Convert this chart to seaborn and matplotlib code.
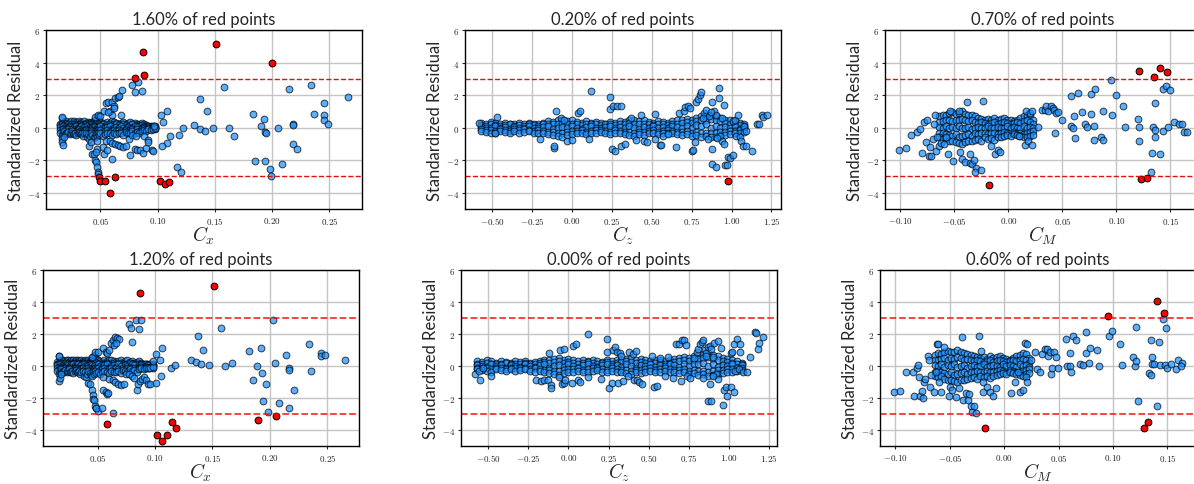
import pandas as pd
import seaborn as sns
import matplotlib.pyplot as plt
from matplotlib.ticker import FuncFormatter

# ---------------------------------------------------------------------------
# Data (standardized residuals vs coefficient)
# ---------------------------------------------------------------------------

titles = ["1.60% of red points", "0.20% of red points", "0.70% of red points",
          "1.20% of red points", "0.00% of red points", "0.60% of red points"]
xlabels = [r"$C_x$", r"$C_z$", r"$C_M$", r"$C_x$", r"$C_z$", r"$C_M$"]
threshold = 3.0

# dense band of Cx (same in both rows)
cx_band_x = [0.015, 0.016, 0.017, 0.018, 0.019, 0.020, 0.021, 0.022, 0.023, 0.024,
             0.025, 0.026, 0.027, 0.028, 0.029, 0.030, 0.031, 0.032, 0.033, 0.034,
             0.035, 0.036, 0.037, 0.038, 0.039, 0.040, 0.041, 0.042, 0.043, 0.044,
             0.045, 0.046, 0.047, 0.048, 0.049, 0.050, 0.052, 0.054, 0.056, 0.058,
             0.060, 0.062, 0.064, 0.066, 0.068, 0.070, 0.072, 0.074, 0.076, 0.078,
             0.080, 0.082, 0.084, 0.086, 0.088, 0.090, 0.092, 0.094, 0.096, 0.098]
cx_band_hi = [0.25, 0.60, 0.30, 0.35, 0.20, 0.40, 0.30, 0.15, 0.35, 0.40,
              0.25, 0.30, 0.40, 0.20, 0.35, 0.30, 0.40, 0.25, 0.35, 0.30,
              0.20, 0.40, 0.30, 0.25, 0.35, 0.30, 0.20, 0.35, 0.30, 0.40,
              0.50, 0.55, 0.60, 0.70, 0.45, 0.35, 0.30, 0.25, 0.35, 0.30,
              0.40, 0.35, 0.30, 0.25, 0.30, 0.35, 0.20, 0.30, 0.35, 0.25,
              0.30, 0.20, 0.25, 0.30, 0.20, 0.15, 0.10, 0.10, 0.05, 0.10]
cx_band_q = [0.15, 0.20, 0.10, 0.15, 0.20, 0.15, 0.10, 0.20, 0.15, 0.20,
             0.10, 0.15, 0.20, 0.15, 0.10, 0.20, 0.15, 0.10, 0.20, 0.15,
             0.10, 0.15, 0.20, 0.10, 0.15, 0.20, 0.15, 0.10, 0.20, 0.15,
             0.25, 0.20, 0.30, 0.25, 0.20, 0.15, 0.20, 0.10, 0.15, 0.20,
             0.15, 0.10, 0.20, 0.15, 0.10, 0.20, 0.15, 0.10, 0.15, 0.20,
             0.10, 0.15, 0.10, 0.15, 0.10, 0.05, 0.10, 0.05, 0.10, 0.05]
cx_band_mid = [0.05, -0.05, 0.10, 0.00, -0.10, 0.05, 0.00, -0.05, 0.10, 0.05,
               -0.10, 0.00, 0.05, -0.05, 0.10, 0.00, -0.05, 0.05, 0.10, -0.10,
               0.00, 0.05, -0.05, 0.10, 0.00, -0.10, 0.05, 0.00, -0.05, 0.10,
               0.05, -0.10, 0.00, 0.05, -0.05, 0.10, 0.00, -0.05, 0.05, 0.10,
               -0.10, 0.00, 0.05, -0.05, 0.10, 0.00, -0.10, 0.05, 0.00, -0.05,
               0.10, 0.05, -0.10, 0.00, 0.05, -0.05, 0.00, 0.05, -0.05, 0.00]
cx_band_lq = [-0.15, -0.20, -0.10, -0.25, -0.15, -0.20, -0.15, -0.10, -0.20, -0.15,
              -0.10, -0.20, -0.15, -0.25, -0.20, -0.15, -0.10, -0.20, -0.15, -0.20,
              -0.25, -0.20, -0.15, -0.30, -0.20, -0.35, -0.25, -0.15, -0.20, -0.25,
              -0.30, -0.20, -0.25, -0.15, -0.20, -0.15, -0.25, -0.20, -0.15, -0.20,
              -0.20, -0.15, -0.20, -0.15, -0.20, -0.25, -0.15, -0.20, -0.15, -0.10,
              -0.15, -0.10, -0.20, -0.10, -0.05, -0.10, -0.05, -0.10, -0.05, -0.10]
cx_band_lo = [-0.30, -0.50, -0.35, -0.20, -0.40, -0.30, -0.35, -0.25, -0.40, -0.30,
              -0.20, -0.35, -0.40, -0.30, -0.45, -0.30, -0.25, -0.35, -0.40, -0.30,
              -0.50, -0.35, -0.30, -0.60, -0.40, -0.70, -0.50, -0.30, -0.45, -0.55,
              -0.60, -0.40, -0.50, -0.30, -0.45, -0.35, -0.50, -0.40, -0.30, -0.35,
              -0.45, -0.30, -0.40, -0.35, -0.30, -0.45, -0.25, -0.30, -0.35, -0.20,
              -0.30, -0.25, -0.35, -0.20, -0.15, -0.20, -0.10, -0.15, -0.10, -0.05]

# dense band of Cz
cz_band_x = [-0.57, -0.54, -0.51, -0.48, -0.45, -0.42, -0.39, -0.36,
             -0.33, -0.30, -0.27, -0.24, -0.21, -0.18, -0.15, -0.12,
             -0.09, -0.06, -0.03, 0.00, 0.03, 0.06, 0.09, 0.12,
             0.15, 0.18, 0.21, 0.24, 0.27, 0.30, 0.33, 0.36,
             0.39, 0.42, 0.45, 0.48, 0.51, 0.54, 0.57, 0.60,
             0.63, 0.66, 0.69, 0.72, 0.75, 0.78, 0.81, 0.84,
             0.87, 0.90, 0.93, 0.96, 0.99, 1.02, 1.05, 1.08]
cz_band_hi = [0.30, 0.25, 0.35, 0.30, 0.20, 0.30, 0.25, 0.20,
              0.30, 0.25, 0.30, 0.20, 0.25, 0.30, 0.40, 0.35,
              0.45, 0.50, 0.40, 0.45, 0.35, 0.30, 0.40, 0.30,
              0.35, 0.30, 0.25, 0.35, 0.30, 0.40, 0.35, 0.45,
              0.50, 0.40, 0.45, 0.35, 0.30, 0.40, 0.35, 0.30,
              0.40, 0.45, 0.50, 0.55, 0.50, 0.60, 0.70, 0.75,
              0.80, 0.70, 0.60, 0.50, 0.45, 0.40, 0.30, 0.20]
cz_band_q = [0.15, 0.10, 0.20, 0.15, 0.10, 0.15, 0.20, 0.10,
             0.15, 0.10, 0.20, 0.15, 0.10, 0.20, 0.25, 0.20,
             0.25, 0.30, 0.20, 0.25, 0.20, 0.15, 0.20, 0.25,
             0.20, 0.15, 0.20, 0.25, 0.15, 0.20, 0.25, 0.30,
             0.25, 0.20, 0.25, 0.20, 0.15, 0.20, 0.25, 0.15,
             0.20, 0.25, 0.30, 0.35, 0.30, 0.40, 0.45, 0.50,
             0.55, 0.45, 0.40, 0.30, 0.25, 0.20, 0.15, 0.10]
cz_band_mid = [0.05, 0.00, -0.05, 0.10, 0.00, 0.05, -0.10, 0.05,
               0.00, -0.05, 0.10, 0.00, -0.05, 0.05, 0.10, -0.10,
               0.00, 0.05, -0.05, 0.10, 0.00, -0.10, 0.05, 0.10,
               0.00, -0.05, 0.05, 0.10, 0.00, 0.05, -0.05, 0.10,
               0.00, -0.10, 0.05, 0.00, 0.10, -0.05, 0.05, 0.00,
               0.10, 0.05, -0.05, 0.10, 0.00, 0.15, 0.10, 0.20,
               0.00, 0.10, -0.05, 0.05, 0.00, 0.10, -0.10, 0.05]
cz_band_lq = [-0.10, -0.15, -0.15, -0.20, -0.10, -0.15, -0.20, -0.10,
              -0.15, -0.10, -0.15, -0.20, -0.15, -0.20, -0.25, -0.25,
              -0.30, -0.30, -0.25, -0.20, -0.20, -0.15, -0.25, -0.20,
              -0.15, -0.15, -0.20, -0.25, -0.15, -0.20, -0.25, -0.25,
              -0.30, -0.25, -0.25, -0.20, -0.15, -0.25, -0.20, -0.15,
              -0.20, -0.25, -0.25, -0.20, -0.30, -0.25, -0.30, -0.30,
              -0.35, -0.30, -0.25, -0.25, -0.20, -0.20, -0.15, -0.10]
cz_band_lo = [-0.20, -0.25, -0.30, -0.35, -0.20, -0.25, -0.30, -0.20,
              -0.30, -0.25, -0.20, -0.30, -0.35, -0.30, -0.40, -0.45,
              -0.50, -0.55, -0.45, -0.40, -0.35, -0.30, -0.40, -0.35,
              -0.30, -0.25, -0.35, -0.40, -0.30, -0.35, -0.40, -0.45,
              -0.50, -0.40, -0.45, -0.35, -0.30, -0.40, -0.35, -0.30,
              -0.35, -0.40, -0.45, -0.40, -0.50, -0.45, -0.55, -0.50,
              -0.60, -0.55, -0.50, -0.45, -0.40, -0.35, -0.30, -0.25]

# dense blob of CM
cm_band_x = [-0.064, -0.061, -0.058, -0.055, -0.052, -0.049, -0.046, -0.043, -0.040, -0.037,
             -0.034, -0.031, -0.028, -0.025, -0.022, -0.019, -0.016, -0.013, -0.010, -0.007,
             -0.004, -0.001, 0.002, 0.005, 0.008, 0.011, 0.014, 0.017, 0.020, 0.023]
cm_band_r1 = [0.70, 0.80, 0.75, 0.90, 0.95, 0.85, 0.90, 1.00, 0.85, 0.80,
              0.75, 0.70, 0.60, 0.55, 0.50, 0.55, 0.45, 0.60, 0.50, 0.55,
              0.60, 0.50, 0.45, 0.40, 0.50, 0.60, 0.70, 0.80, 0.75, 0.50]
cm_band_r2 = [0.35, 0.40, 0.45, 0.50, 0.40, 0.50, 0.45, 0.55, 0.50, 0.40,
              0.45, 0.35, 0.30, 0.35, 0.30, 0.25, 0.30, 0.35, 0.25, 0.30,
              0.35, 0.30, 0.25, 0.30, 0.35, 0.30, 0.40, 0.45, 0.35, 0.20]
cm_band_r3 = [0.05, 0.00, 0.10, -0.05, 0.05, 0.00, 0.10, -0.05, 0.00, 0.05,
              -0.10, 0.00, 0.05, -0.05, 0.00, 0.10, -0.05, 0.00, 0.05, 0.00,
              -0.05, 0.10, 0.00, 0.05, 0.00, -0.05, 0.10, 0.00, 0.05, -0.05]
cm_band_r4 = [-0.35, -0.30, -0.40, -0.45, -0.50, -0.40, -0.55, -0.50, -0.45, -0.40,
              -0.50, -0.35, -0.40, -0.30, -0.35, -0.40, -0.30, -0.35, -0.40, -0.30,
              -0.25, -0.30, -0.35, -0.25, -0.30, -0.35, -0.40, -0.30, -0.25, -0.20]
cm_band_r5 = [-0.60, -0.70, -0.65, -0.80, -0.85, -0.90, -0.95, -1.00, -0.90, -0.85,
              -0.80, -0.75, -0.70, -0.80, -0.60, -0.70, -0.65, -0.75, -0.60, -0.55,
              -0.50, -0.45, -0.50, -0.40, -0.45, -0.50, -0.55, -0.60, -0.50, -0.45]

# scattered points (x, residual) outside the dense bands, per panel
cx_top_spread = [
    (0.016, -0.70), (0.016, -0.90), (0.017, -1.05), (0.016, 0.65), (0.018, -0.55),
    (0.045, 0.65), (0.048, 0.75), (0.050, 0.70), (0.053, 1.00), (0.055, 1.50),
    (0.057, 1.55), (0.058, 1.00), (0.060, 1.60), (0.062, 1.30), (0.063, 1.80),
    (0.065, 1.90), (0.066, 1.95), (0.069, 2.30), (0.060, 0.80), (0.062, 1.20),
    (0.057, 0.95), (0.068, 0.75), (0.078, 2.60), (0.080, 2.20), (0.083, 2.80),
    (0.086, 2.25), (0.080, 3.05), (0.088, 3.25), (0.087, 4.65),
    (0.040, -1.10), (0.042, -0.90), (0.043, -1.60), (0.045, -2.00), (0.046, -2.10),
    (0.047, -2.40), (0.048, -2.75), (0.048, -2.85), (0.044, -1.65), (0.047, -0.85),
    (0.047, -1.30), (0.046, -1.50), (0.049, -3.05), (0.050, -3.30), (0.054, -3.30),
    (0.058, -4.00), (0.063, -3.05), (0.053, -1.65), (0.060, -1.95), (0.052, -1.20),
    (0.056, -1.40), (0.055, -0.80), (0.058, -0.85), (0.060, -0.95), (0.063, -1.00),
    (0.065, -1.05), (0.067, -1.10), (0.070, -1.20), (0.072, -1.15), (0.075, -0.70),
    (0.076, -1.70), (0.078, -0.45), (0.080, -1.30), (0.081, -0.50), (0.082, -1.40),
    (0.085, -1.35), (0.087, -1.55), (0.088, -0.50), (0.090, -1.25), (0.092, -0.75),
    (0.092, -0.90), (0.095, -1.40), (0.096, -1.45), (0.097, 0.10), (0.103, 0.75),
    (0.105, 0.35), (0.108, 1.05), (0.108, -0.95), (0.104, -1.15), (0.111, -0.50),
    (0.117, -2.40), (0.120, -2.70), (0.119, -0.45), (0.122, 0.00), (0.102, -3.25),
    (0.106, -3.45), (0.110, -3.35), (0.132, 0.15), (0.137, -0.08), (0.141, -0.20),
    (0.137, 1.75), (0.143, 1.00), (0.148, 0.00), (0.151, 5.15), (0.158, 2.50),
    (0.162, 0.00), (0.167, -0.50), (0.183, 0.85), (0.185, -2.05), (0.190, 0.10),
    (0.193, 0.55), (0.194, -0.25), (0.195, -0.30), (0.194, -2.05), (0.198, -2.55),
    (0.199, -2.98), (0.200, 3.95), (0.205, -0.05), (0.209, -2.25), (0.215, 2.35),
    (0.218, 0.20), (0.218, 0.15), (0.218, -1.00), (0.222, -1.30), (0.234, 2.60),
    (0.237, 0.85), (0.245, 1.50), (0.245, 0.80), (0.245, 0.50), (0.249, 0.25),
    (0.266, 1.90)]

cz_top_spread = [
    (-0.58, 0.30), (-0.48, -0.35), (-0.47, 0.65), (-0.20, -0.70), (-0.11, -1.25),
    (-0.11, -1.10), (-0.10, 1.00), (-0.07, 0.60), (-0.05, 0.50), (-0.03, -0.80),
    (0.00, -0.75), (0.04, 0.90), (0.05, 1.00), (0.11, -0.70), (0.12, 2.25),
    (0.24, 1.90), (0.24, 1.15), (0.26, 1.30), (0.28, 1.35), (0.31, 1.30),
    (0.25, -1.30), (0.27, -1.45), (0.31, -1.15), (0.33, -1.00), (0.37, 0.60),
    (0.40, -0.75), (0.43, 0.80), (0.45, -0.80), (0.47, -0.90), (0.52, 0.85),
    (0.52, -0.70), (0.55, -1.05), (0.56, -1.05), (0.57, -0.50), (0.60, -0.40),
    (0.65, -1.20), (0.67, 0.90), (0.70, 1.00), (0.71, 1.25), (0.73, 1.35),
    (0.74, 1.20), (0.75, -1.45), (0.76, -1.40), (0.77, -0.90), (0.78, 1.60),
    (0.79, 1.75), (0.80, 2.00), (0.81, 2.20), (0.83, 0.90), (0.84, 1.10),
    (0.86, 0.70), (0.88, 1.60), (0.89, 1.00), (0.90, 0.80), (0.92, 1.80),
    (0.92, 2.45), (0.95, 1.40), (0.88, -1.30), (0.88, -2.25), (0.90, -2.40),
    (0.93, -0.50), (0.94, -0.80), (0.95, -1.00), (0.96, -2.30), (0.97, -2.30),
    (0.98, -1.80), (0.99, -1.85), (1.01, -1.70), (0.98, -3.25), (1.01, 0.40),
    (1.02, 0.50), (1.04, 0.75), (1.03, -0.50), (1.05, -0.60), (1.06, -0.80),
    (1.07, -1.15), (1.09, -1.10), (1.13, -1.45), (1.08, 0.10), (1.09, -0.20),
    (1.16, 0.20), (1.17, 0.20), (1.19, 0.80), (1.20, 0.65), (1.22, 0.75),
    (0.82, 0.60), (0.85, -0.70), (0.87, 0.95), (0.91, -0.65), (0.94, 0.60)]

cm_top_spread = [
    (-0.101, -1.35), (-0.095, -1.25), (-0.090, -0.45), (-0.085, -0.25), (-0.082, -0.10),
    (-0.080, -1.55), (-0.078, 0.35), (-0.076, -0.90), (-0.075, 0.50), (-0.074, -1.75),
    (-0.072, -1.75), (-0.073, -1.20), (-0.070, -0.70), (-0.069, 0.25), (-0.068, 0.80),
    (-0.067, -1.45), (-0.066, -0.55), (-0.064, -1.10), (-0.062, -0.95), (-0.060, -1.00),
    (-0.058, -0.60), (-0.056, -1.60), (-0.054, 1.00), (-0.051, -2.05), (-0.045, -1.50),
    (-0.046, 1.00), (-0.043, -1.95), (-0.040, -2.10), (-0.038, 1.55), (-0.036, -1.65),
    (-0.036, -2.20), (-0.034, -2.25), (-0.032, -2.00), (-0.030, -2.45), (-0.031, -2.70),
    (-0.025, -2.60), (-0.024, 1.65), (-0.018, -3.50), (-0.016, -1.10), (-0.012, -1.60),
    (-0.010, -1.40), (-0.008, -1.50), (0.010, -0.50), (0.015, -1.05), (0.018, -0.80),
    (0.022, -1.05), (0.016, 1.00), (0.020, 0.90), (0.022, 1.05), (0.027, 0.05),
    (0.031, 1.10), (0.034, 1.10), (0.035, 1.35), (0.037, 1.05), (0.039, 1.30),
    (0.041, 1.20), (0.042, 1.10), (0.044, 0.90), (0.046, 0.95), (0.043, -0.35),
    (0.050, 0.45), (0.058, 1.95), (0.058, 0.10), (0.060, -0.05), (0.061, 0.70),
    (0.062, -0.65), (0.064, 2.15), (0.068, 0.95), (0.071, 0.20), (0.073, 0.05),
    (0.076, 2.05), (0.076, 0.85), (0.079, 0.10), (0.079, -0.75), (0.080, 2.40),
    (0.086, -0.60), (0.088, 1.00), (0.088, -0.75), (0.095, 2.90), (0.096, 0.80),
    (0.100, 2.00), (0.106, 1.30), (0.108, 0.05), (0.120, 0.55), (0.121, 0.05),
    (0.121, -0.85), (0.121, 3.50), (0.123, -3.15), (0.128, -3.10), (0.132, -2.70),
    (0.133, -1.55), (0.134, 0.05), (0.135, 3.10), (0.136, -0.15), (0.136, -0.60),
    (0.136, 1.50), (0.140, 3.65), (0.140, -1.65), (0.143, 2.40), (0.143, -0.20),
    (0.146, 2.55), (0.147, 3.40), (0.148, 0.05), (0.150, 2.30), (0.153, 0.35),
    (0.158, 0.20), (0.161, 0.25), (0.163, -0.25), (0.165, -0.25)]

cx_bottom_spread = [
    (0.016, -0.95), (0.016, 0.60), (0.017, -0.75), (0.018, -0.50),
    (0.045, 0.55), (0.048, 0.85), (0.050, 0.85), (0.055, 1.10), (0.057, 0.90),
    (0.058, 0.80), (0.060, 1.00), (0.062, 1.45), (0.063, 1.65), (0.065, 1.80),
    (0.067, 1.75), (0.069, 1.70), (0.064, 1.30), (0.066, 1.45), (0.077, 2.65),
    (0.079, 2.40), (0.080, 1.50), (0.083, 2.85), (0.086, 2.30), (0.088, 2.85),
    (0.087, 4.55), (0.042, -1.05), (0.043, -1.10), (0.045, -1.50), (0.046, -1.80),
    (0.046, -2.05), (0.047, -2.10), (0.048, -2.50), (0.049, -2.60), (0.050, -2.80),
    (0.049, -2.65), (0.054, -2.65), (0.055, -1.50), (0.057, -1.60), (0.058, -1.75),
    (0.059, -1.70), (0.063, -2.95), (0.058, -3.60), (0.055, -0.70), (0.060, -0.80),
    (0.063, -0.90), (0.065, -1.00), (0.068, -1.10), (0.070, -1.20), (0.073, -1.10),
    (0.075, -0.50), (0.077, -0.50), (0.080, -0.60), (0.082, -0.75), (0.084, -1.50),
    (0.085, -1.10), (0.087, -0.95), (0.089, -0.80), (0.090, -0.70), (0.092, -0.85),
    (0.094, -1.10), (0.096, -1.15), (0.098, 0.30), (0.101, 0.75), (0.101, -1.05),
    (0.104, 0.40), (0.105, -0.60), (0.106, 1.15), (0.114, -0.15), (0.117, 0.05),
    (0.102, -4.30), (0.106, -4.70), (0.110, -4.30), (0.115, -3.50), (0.118, -3.85),
    (0.131, 0.40), (0.136, 0.25), (0.140, 0.10), (0.137, 1.90), (0.142, 1.00),
    (0.147, 0.05), (0.151, 5.00), (0.157, 2.40), (0.161, 0.00), (0.167, 0.20),
    (0.182, 0.95), (0.185, -0.90), (0.189, 0.00), (0.192, 1.15), (0.193, -0.45),
    (0.197, -1.15), (0.194, -2.20), (0.198, -2.90), (0.190, -3.40), (0.203, 2.90),
    (0.204, 0.20), (0.205, -3.15), (0.208, -2.30), (0.214, 0.70), (0.217, -0.15),
    (0.217, -0.25), (0.217, -2.65), (0.221, -1.50), (0.234, 1.40), (0.236, -0.30),
    (0.244, 0.80), (0.244, 0.65), (0.248, 0.70), (0.265, 0.35)]

cz_bottom_spread = [
    (-0.58, -0.50), (-0.56, -0.30), (-0.55, -0.90), (-0.53, -0.15), (-0.48, -0.60),
    (-0.20, -0.85), (-0.17, -0.95), (-0.15, -0.90), (-0.13, -0.85), (-0.12, 0.80),
    (-0.11, -1.20), (-0.11, -1.35), (-0.06, -0.70), (-0.05, 1.00), (-0.03, 1.05),
    (-0.04, -1.15), (-0.03, -1.05), (-0.02, -0.90), (0.02, -1.05), (0.03, 1.25),
    (0.05, 1.35), (0.06, -0.90), (0.07, -1.00), (0.12, 2.00), (0.12, -0.70),
    (0.20, -0.80), (0.24, 1.70), (0.24, 0.85), (0.25, -1.40), (0.27, -1.05),
    (0.28, 1.00), (0.29, 1.20), (0.30, 0.90), (0.32, 0.80), (0.33, 0.65),
    (0.31, -1.05), (0.34, -0.95), (0.37, -0.60), (0.38, 0.90), (0.40, 0.75),
    (0.42, 0.95), (0.41, -0.90), (0.43, -0.85), (0.44, -1.00), (0.46, -1.10),
    (0.52, 0.60), (0.53, -1.30), (0.55, -1.25), (0.57, 0.50), (0.60, -0.65),
    (0.62, 0.55), (0.65, -0.75), (0.67, 1.35), (0.69, 1.35), (0.70, -0.95),
    (0.71, 1.60), (0.72, 1.65), (0.73, 1.30), (0.74, -0.60), (0.76, -0.75),
    (0.78, 0.50), (0.80, 0.90), (0.81, 1.05), (0.82, 1.35), (0.83, 1.50),
    (0.84, 1.60), (0.85, 1.00), (0.86, 0.80), (0.87, 1.20), (0.88, 1.25),
    (0.89, 1.05), (0.90, 0.55), (0.91, 1.45), (0.93, 1.55), (0.95, 1.10),
    (0.92, -0.50), (0.93, -0.80), (0.88, -1.10), (0.87, -2.20), (0.89, -2.20),
    (0.96, -2.45), (0.97, -1.50), (0.98, -1.30), (0.99, -1.85), (1.01, -1.30),
    (1.03, -1.60), (1.01, 0.80), (1.02, 0.90), (1.03, 1.40), (1.05, 1.70),
    (1.07, 0.85), (1.07, 1.40), (1.04, -0.30), (1.06, -0.20), (1.09, -0.40),
    (1.11, -0.40), (1.13, 0.55), (1.16, 2.10), (1.17, 2.05), (1.18, 1.05),
    (1.19, 1.45), (1.21, 1.80), (0.84, -0.75), (0.86, 0.60), (0.90, -0.60)]

cm_bottom_spread = [
    (-0.101, -1.65), (-0.096, -1.55), (-0.090, -0.35), (-0.084, -0.35), (-0.083, -1.90),
    (-0.080, -0.10), (-0.079, 0.05), (-0.078, -0.70), (-0.077, -1.90), (-0.076, -1.55),
    (-0.075, -2.00), (-0.074, -1.00), (-0.073, -0.80), (-0.070, 0.65), (-0.069, 0.35),
    (-0.068, -1.30), (-0.067, -0.55), (-0.065, -1.65), (-0.063, -0.40), (-0.062, 1.35),
    (-0.061, 1.35), (-0.060, -1.00), (-0.058, -1.65), (-0.055, 1.20), (-0.051, -1.90),
    (-0.050, -1.30), (-0.048, -1.50), (-0.044, -1.95), (-0.042, -1.40), (-0.039, 1.80),
    (-0.038, -2.10), (-0.035, -1.70), (-0.033, -2.15), (-0.032, -1.75), (-0.031, -2.50),
    (-0.030, -2.85), (-0.028, -2.50), (-0.026, -2.95), (-0.023, 1.90), (-0.021, 0.95),
    (-0.020, -1.00), (-0.020, -1.60), (-0.018, -3.90), (-0.016, -1.30), (-0.013, -1.60),
    (-0.010, -1.85), (-0.008, -1.40), (0.006, -1.70), (0.010, -1.00), (0.013, -0.40),
    (0.014, -1.60), (0.017, -1.50), (0.019, 1.45), (0.021, 1.40), (0.020, -0.70),
    (0.021, -1.00), (0.025, 0.35), (0.028, 0.85), (0.030, -0.20), (0.033, -0.40),
    (0.035, 0.75), (0.037, 1.05), (0.039, 1.05), (0.040, 0.60), (0.042, 0.90),
    (0.043, -0.50), (0.044, -0.15), (0.046, 0.85), (0.048, 0.55), (0.049, -0.10),
    (0.057, 1.70), (0.058, 0.00), (0.060, 0.00), (0.060, 0.80), (0.061, -0.35),
    (0.063, 1.90), (0.066, 1.60), (0.070, 0.15), (0.072, 0.05), (0.075, 2.10),
    (0.075, 0.80), (0.078, 0.20), (0.079, 1.15), (0.085, 1.00), (0.087, 0.00),
    (0.095, 3.10), (0.096, 1.90), (0.099, 2.20), (0.106, 1.40), (0.108, 0.05),
    (0.118, 0.55), (0.120, 0.00), (0.121, 0.30), (0.121, 2.45), (0.123, -2.20),
    (0.128, -3.85), (0.132, -3.50), (0.133, -0.45), (0.135, -0.55), (0.135, 1.65),
    (0.136, 0.10), (0.136, 0.55), (0.138, 0.10), (0.140, -2.50), (0.140, 4.05),
    (0.142, 1.50), (0.143, 0.05), (0.146, 2.95), (0.147, 3.30), (0.148, 0.05),
    (0.149, 2.40), (0.150, -0.10), (0.153, 0.15), (0.158, -0.20), (0.160, 0.40),
    (0.163, 0.20), (0.162, 0.00)]


def build_frame(band_x, band_rows, spread):
    xs, ys = [], []
    for row in band_rows:
        xs += list(band_x)
        ys += list(row)
    for x, y in spread:
        xs.append(x)
        ys.append(y)
    df = pd.DataFrame({"x": xs, "resid": ys})
    df["outlier"] = df["resid"].abs() > threshold
    return df


cx_rows = [cx_band_hi, cx_band_q, cx_band_mid, cx_band_lq, cx_band_lo]
cz_rows = [cz_band_hi, cz_band_q, cz_band_mid, cz_band_lq, cz_band_lo]
cm_rows = [cm_band_r1, cm_band_r2, cm_band_r3, cm_band_r4, cm_band_r5]

panels = [
    build_frame(cx_band_x, cx_rows, cx_top_spread),
    build_frame(cz_band_x, cz_rows, cz_top_spread),
    build_frame(cm_band_x, cm_rows, cm_top_spread),
    build_frame(cx_band_x, cx_rows, cx_bottom_spread),
    build_frame(cz_band_x, cz_rows, cz_bottom_spread),
    build_frame(cm_band_x, cm_rows, cm_bottom_spread),
]

sns.set_theme(style="ticks")
plt.rcParams["font.family"] = ["Lato", "DejaVu Sans"]
plt.rcParams["mathtext.fontset"] = "cm"

fig = plt.figure(figsize=(11.94, 4.85), dpi=100)

# axes boxes in pixels (left, top, height) measured on the reference, width 316
boxes = [(46, 31, 179), (465, 31, 179), (885, 31, 179),
         (43, 271, 176), (461, 271, 176), (880, 271, 176)]

for i, (df, (left, top, h)) in enumerate(zip(panels, boxes)):
    ax = fig.add_axes([left / 1194, (485 - top - h) / 485, 316 / 1194, h / 485])
    ax.grid(True, color="#c4c4c4", linewidth=1.0)
    ax.set_axisbelow(True)

    inl = df[~df["outlier"]]
    out = df[df["outlier"]]
    sns.scatterplot(data=inl, x="x", y="resid", ax=ax, color="#1e90ff", alpha=0.72,
                    edgecolor="black", linewidth=0.7, s=24, legend=False)
    sns.scatterplot(data=out, x="x", y="resid", ax=ax, color="red",
                    edgecolor="black", linewidth=0.7, s=24, legend=False)

    # +-3 thresholds
    if i < 3:
        line_kw = dict(color="#e01010", linestyle="--", linewidth=1.0)
    else:
        line_kw = dict(color="red", linestyle="--", linewidth=1.3, alpha=0.8)
    ax.axhline(threshold, **line_kw)
    ax.axhline(-threshold, **line_kw)

    ax.set_ylim(-5, 6)
    ax.set_yticks([-4, -2, 0, 2, 4, 6])
    ax.xaxis.set_major_formatter(FuncFormatter(lambda v, p: f"${v:.2f}$"))
    ax.yaxis.set_major_formatter(FuncFormatter(lambda v, p: f"${v:.0f}$"))
    ax.tick_params(labelsize=6.5, length=2.5, width=0.8, pad=1.5)
    for sp in ax.spines.values():
        sp.set_color("black")
        sp.set_linewidth(1.0)

    ax.set_title(titles[i], fontsize=12, pad=4)
    ax.set_ylabel("Standardized Residual", fontsize=12, labelpad=2)
    ax.set_xlabel(xlabels[i], fontsize=14, labelpad=-1)

plt.savefig("out.png", dpi=100)
